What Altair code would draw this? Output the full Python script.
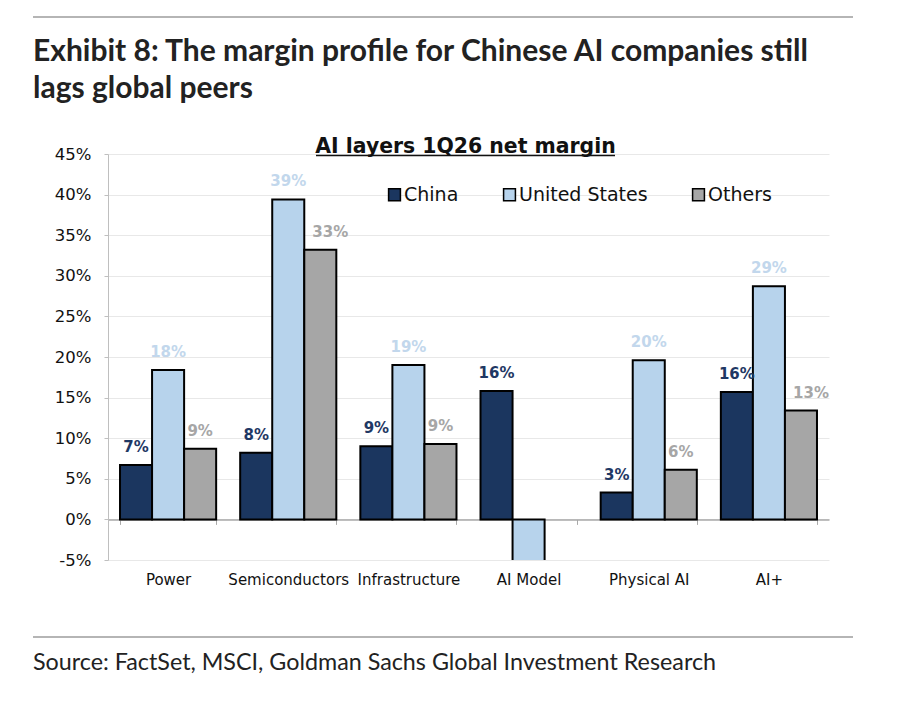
import altair as alt
import pandas as pd

# Net margin (%) by AI layer and region, 1Q26
categories = ["Power", "Semiconductors", "Infrastructure", "AI Model", "Physical AI", "AI+"]
series_names = ["China", "United States", "Others"]
china = [6.7, 8.2, 9.0, 15.8, 3.3, 15.7]
united_states = [18.4, 39.4, 19.0, -8.0, 19.6, 28.7]
others = [8.7, 33.2, 9.3, None, 6.1, 13.4]

y_ticks = [-5, 0, 5, 10, 15, 20, 25, 30, 35, 40, 45]

bar_colors = ["#1b365f", "#b7d3ec", "#a6a6a6"]
label_colors = ["#1f3864", "#c2d7ec", "#a6a6a6"]

title_lines = ["Exhibit 8: The margin profile for Chinese AI companies still",
               "lags global peers"]
chart_title = "AI layers 1Q26 net margin"
source_text = "Source: FactSet, MSCI, Goldman Sachs Global Investment Research"

rows = []
for name, vals in zip(series_names, [china, united_states, others]):
    for cat, v in zip(categories, vals):
        if v is not None:
            rows.append({"layer": cat, "series": name, "value": v})
df = pd.DataFrame(rows)

FONT = "DejaVu Sans"
HEAD_FONT = "Lato"

x_enc = alt.X("layer:N", sort=categories,
              scale=alt.Scale(paddingInner=0.2, paddingOuter=0.1),
              axis=alt.Axis(title=None, labelAngle=0, offset=-40.6,
                            domainColor="#a9a9a9", domainWidth=1.5,
                            tickColor="#a9a9a9", tickBand="extent", tickSize=5,
                            labelPadding=48, labelFont=FONT, labelFontSize=15,
                            labelColor="#111111", grid=False))
xo_enc = alt.XOffset("series:N", sort=series_names,
                     scale=alt.Scale(domain=series_names))
y_enc = alt.Y("value:Q",
              scale=alt.Scale(domain=[-5, 45], nice=False, zero=False),
              axis=alt.Axis(title=None, values=y_ticks,
                            labelExpr="datum.value + '%'",
                            domainColor="#bfbfbf", tickColor="#bfbfbf",
                            tickSize=4, labelPadding=13, labelFont=FONT,
                            labelFontSize=16.5, labelColor="#111111",
                            gridColor="#e8e8e8"))

bars = alt.Chart(df).mark_bar(stroke="black", strokeWidth=2, clip=True).encode(
    x=x_enc,
    xOffset=xo_enc,
    y=y_enc,
    color=alt.Color("series:N", sort=series_names,
                    scale=alt.Scale(domain=series_names, range=bar_colors),
                    legend=alt.Legend(title=None, orient="none",
                                      direction="horizontal",
                                      legendX=277, legendY=31,
                                      symbolType="square", symbolSize=140,
                                      symbolStrokeColor="black",
                                      symbolStrokeWidth=1.5,
                                      labelFont=FONT, labelFontSize=19,
                                      labelColor="#111111", labelOffset=0,
                                      columnPadding=41)),
)

# Value labels; the two labels sitting beside a taller neighbour are nudged right
nudged = "(datum.layer == 'Semiconductors' || datum.layer == 'AI+') && datum.series == 'Others'"


def value_labels(filter_expr, dx):
    return alt.Chart(df).transform_filter(
        alt.datum.value > 0
    ).transform_filter(
        filter_expr
    ).transform_calculate(
        label="format(datum.value, '.0f') + '%'"
    ).mark_text(font=FONT, fontWeight="bold", fontSize=15, dy=-13, dx=dx,
                baseline="alphabetic").encode(
        x=alt.X("layer:N", sort=categories),
        xOffset=alt.XOffset("series:N", sort=series_names),
        y="value:Q",
        text="label:N",
        fill=alt.Fill("series:N", sort=series_names,
                      scale=alt.Scale(domain=series_names, range=label_colors),
                      legend=None),
    )


labels = value_labels("!(" + nudged + ")", 0)
labels_nudged = value_labels(nudged, 10)

one = pd.DataFrame({"k": [0]})

plot_title = alt.Chart(one).mark_text(
    text=chart_title, font=FONT, fontWeight="bold", fontSize=20.4,
    align="center", baseline="alphabetic", color="#111111"
).encode(x=alt.value(357.5), y=alt.value(-1.5))

title_underline = alt.Chart(one).mark_rule(color="#111111", strokeWidth=1.5).encode(
    x=alt.value(208), x2=alt.value(507), y=alt.value(1.5))

head1 = alt.Chart(one).mark_text(
    text=title_lines[0], font=HEAD_FONT, fontWeight="bold", fontSize=30,
    align="left", baseline="alphabetic", color="#222222"
).encode(x=alt.value(-75), y=alt.value(-93.5))

head2 = alt.Chart(one).mark_text(
    text=title_lines[1], font=HEAD_FONT, fontWeight="bold", fontSize=30,
    align="left", baseline="alphabetic", color="#222222"
).encode(x=alt.value(-75), y=alt.value(-56.5))

source = alt.Chart(one).mark_text(
    text=source_text, font=HEAD_FONT, fontSize=23.3,
    align="left", baseline="alphabetic", color="#222222"
).encode(x=alt.value(-75), y=alt.value(516))

top_rule = alt.Chart(one).mark_rule(color="#b5b5b5", strokeWidth=2).encode(
    x=alt.value(-75), x2=alt.value(745), y=alt.value(-137))

bottom_rule = alt.Chart(one).mark_rule(color="#b5b5b5", strokeWidth=2).encode(
    x=alt.value(-75), x2=alt.value(745), y=alt.value(483))

chart = alt.layer(
    bars, labels, labels_nudged, plot_title, title_underline, head1, head2,
    source, top_rule, bottom_rule
).resolve_scale(
    fill="independent"
).properties(
    width=721, height=406,
    autosize=alt.AutoSizeParams(type="none"),
    padding={"left": 108, "top": 154, "right": 87, "bottom": 150},
    background="white",
).configure_view(stroke=None)

chart.save("out.html", embed_options={"renderer": "svg", "actions": False})
